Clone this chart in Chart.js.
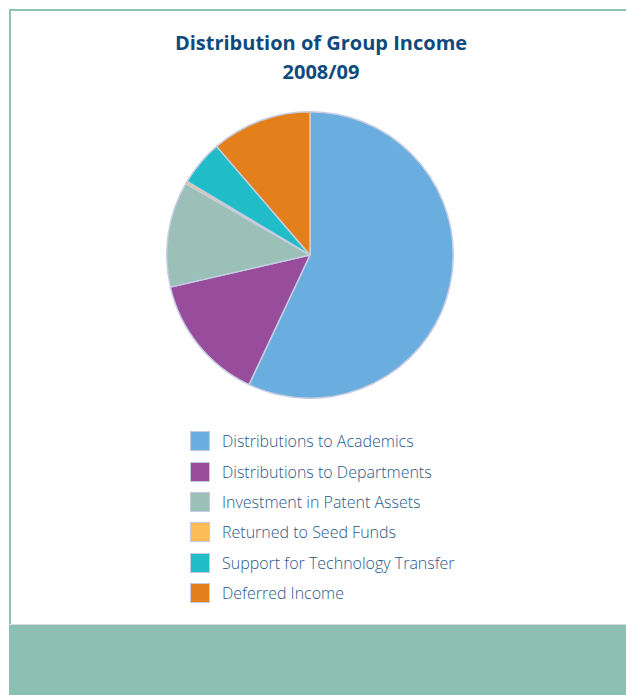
<!DOCTYPE html>
<html lang="en">
<head>
  <meta charset="UTF-8">
  <title>Distribution of Group Income 2008/09</title>
  <script src="https://cdn.jsdelivr.net/npm/chart.js"></script>
  <style>
    html, body { margin: 0; padding: 0; background: #fff; }
    body { width: 626px; height: 695px; position: relative; overflow: hidden; font-family: "Open Sans", sans-serif; }
    #frame { position: absolute; left: 9px; top: 9px; width: 640px; height: 700px;
      border-left: 2px solid #8cc4b2; border-top: 2px solid #8cc4b2; }
    #band { position: absolute; left: 9px; top: 624px; width: 620px; height: 80px; background: #8bc0b2;
      border-top: 1px solid #d8dedc; }
    h1 { position: absolute; left: 0; top: 28px; width: 642px; margin: 0; text-align: center;
      font-size: 20px; line-height: 29px; font-weight: 700; color: #0f4a7c; }
    #pieWrap { position: absolute; left: 166px; top: 111px; width: 288px; height: 288px; }
    #legend { position: absolute; left: 190px; top: 426px; margin: 0; padding: 0; list-style: none; }
    #legend li { height: 30.4px; display: flex; align-items: center; font-size: 16px; font-weight: 300; color: #285a8a; }
    #legend span.box { width: 18px; height: 18px; margin-right: 12px; border: 1px solid #c4cbe0; }
  </style>
</head>
<body>
  <div id="frame"></div>
  <div id="band"></div>
  <h1>Distribution of Group Income<br>2008/09</h1>
  <div id="pieWrap"><canvas id="incomeChart"></canvas></div>
  <ul id="legend"></ul>

  <script>
    const categories = [
      'Distributions to Academics',
      'Distributions to Departments',
      'Investment in Patent Assets',
      'Returned to Seed Funds',
      'Support for Technology Transfer',
      'Deferred Income'
    ];
    // share of group income, %
    const shares = [57.0, 14.4, 11.9, 0.3, 5.1, 11.3];
    const colours = ['#6aaddf', '#974d9b', '#9bc0b8', '#fdbc55', '#20bcc8', '#e4801c'];

    const ctx = document.getElementById('incomeChart').getContext('2d');
    new Chart(ctx, {
      type: 'pie',
      data: {
        labels: categories,
        datasets: [{
          data: shares,
          backgroundColor: colours,
          borderColor: '#c6cce2',
          borderWidth: 1.5
        }]
      },
      options: {
        responsive: true,
        maintainAspectRatio: false,
        animation: false,
        plugins: {
          legend: { display: false },
          tooltip: { enabled: false }
        }
      }
    });

    const legend = document.getElementById('legend');
    categories.forEach((name, i) => {
      const li = document.createElement('li');
      li.innerHTML = `<span class="box" style="background:${colours[i]}"></span>${name}`;
      legend.appendChild(li);
    });
  </script>
</body>
</html>
